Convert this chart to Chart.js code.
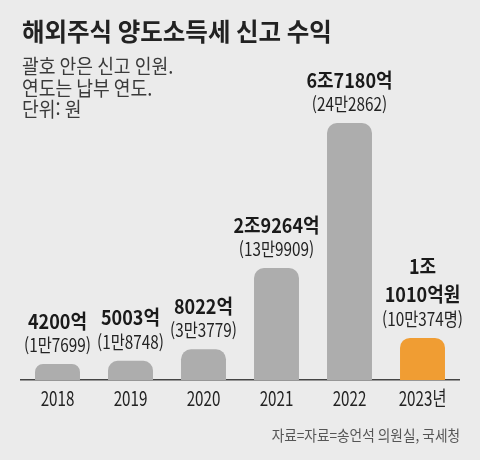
<!DOCTYPE html>
<html lang="ko">
<head>
    <meta charset="UTF-8">
    <title>해외주식 양도소득세 신고 수익</title>
    <script src="https://cdn.jsdelivr.net/npm/chart.js"></script>
    <style>
        body {
            margin: 0;
            background-color: #ebebeb;
        }
        .wrap {
            position: relative;
            width: 480px;
            height: 460px;
        }
    </style>
</head>
<body>
    <div class="wrap">
        <canvas id="taxChart"></canvas>
    </div>

    <script>
        // 신고 연도 (납부 연도)
        const years = ["2018", "2019", "2020", "2021", "2022", "2023년"];
        // 신고 수익, 억원 단위
        const amounts = [4200, 5003, 8022, 29264, 67180, 11010];
        const amountLabels = [
            ["4200억"], ["5003억"], ["8022억"], ["2조9264억"], ["6조7180억"], ["1조", "1010억원"]
        ];
        // 신고 인원
        const filerLabels = ["1만7699", "1만8748", "3만3779", "13만9909", "24만2862", "10만374명"];
        const barColors = ["#adadad", "#adadad", "#adadad", "#adadad", "#adadad", "#f09d33"];

        const FONT = '"Noto Sans CJK KR", "Noto Sans", sans-serif';

        // condensed text, like the newspaper font
        function drawText(ctx, text, x, y, size, weight, color, align, sx) {
            ctx.save();
            ctx.font = weight + " " + size + "px " + FONT;
            ctx.fillStyle = color;
            ctx.textAlign = align;
            ctx.textBaseline = "middle";
            ctx.translate(x, y);
            ctx.scale(sx, 1);
            ctx.fillText(text, 0, 0);
            ctx.restore();
        }

        const textPlugin = {
            id: "textPlugin",
            afterDraw(chart) {
                const ctx = chart.ctx;
                // title + notes
                drawText(ctx, "해외주식 양도소득세 신고 수익", 22, 31, 25, "bold", "#222", "left", 0.98);
                drawText(ctx, "괄호 안은 신고 인원.", 22, 66, 20, "normal", "#3a3a3a", "left", 0.91);
                drawText(ctx, "연도는 납부 연도.", 22, 88, 20, "normal", "#3a3a3a", "left", 0.91);
                drawText(ctx, "단위: 원", 22, 109, 20, "normal", "#3a3a3a", "left", 0.91);

                // labels over bars
                const meta = chart.getDatasetMeta(0);
                meta.data.forEach((bar, i) => {
                    const x = bar.x;
                    const top = bar.y;
                    drawText(ctx, "(" + filerLabels[i] + ")", x, top - 19, 18, "normal", "#222", "center", 0.85);
                    const lines = amountLabels[i];
                    for (let k = 0; k < lines.length; k++) {
                        const y = top - 43 - (lines.length - 1 - k) * 28;
                        drawText(ctx, lines[k], x, y, 20, "bold", "#1a1a1a", "center", 0.9);
                    }
                });

                // year labels under axis
                const xScale = chart.scales.x;
                years.forEach((yr, i) => {
                    drawText(ctx, yr, xScale.getPixelForValue(i), 398, 20, "normal", "#222", "center", 0.76);
                });

                drawText(ctx, "자료=자료=송언석 의원실, 국세청", 460, 435, 15, "normal", "#555", "right", 0.91);
            }
        };

        const ctx = document.getElementById("taxChart").getContext("2d");

        const taxChart = new Chart(ctx, {
            type: "bar",
            data: {
                labels: years,
                datasets: [{
                    data: amounts,
                    backgroundColor: barColors,
                    borderRadius: { topLeft: 10, topRight: 10, bottomLeft: 0, bottomRight: 0 },
                    borderSkipped: "start",
                    barPercentage: 1.0,
                    categoryPercentage: 0.616
                }]
            },
            options: {
                responsive: true,
                maintainAspectRatio: false,
                animation: false,
                layout: {
                    padding: { left: 21, right: 21, top: 123, bottom: 80 }
                },
                plugins: {
                    legend: { display: false },
                    tooltip: { enabled: false }
                },
                scales: {
                    x: {
                        z: 1,
                        grid: { display: false, drawTicks: false },
                        ticks: { display: false },
                        border: { display: true, color: "#444", width: 1.5 }
                    },
                    y: {
                        display: false,
                        min: 0,
                        max: Math.max(...amounts)
                    }
                }
            },
            plugins: [textPlugin]
        });
    </script>
</body>
</html>
